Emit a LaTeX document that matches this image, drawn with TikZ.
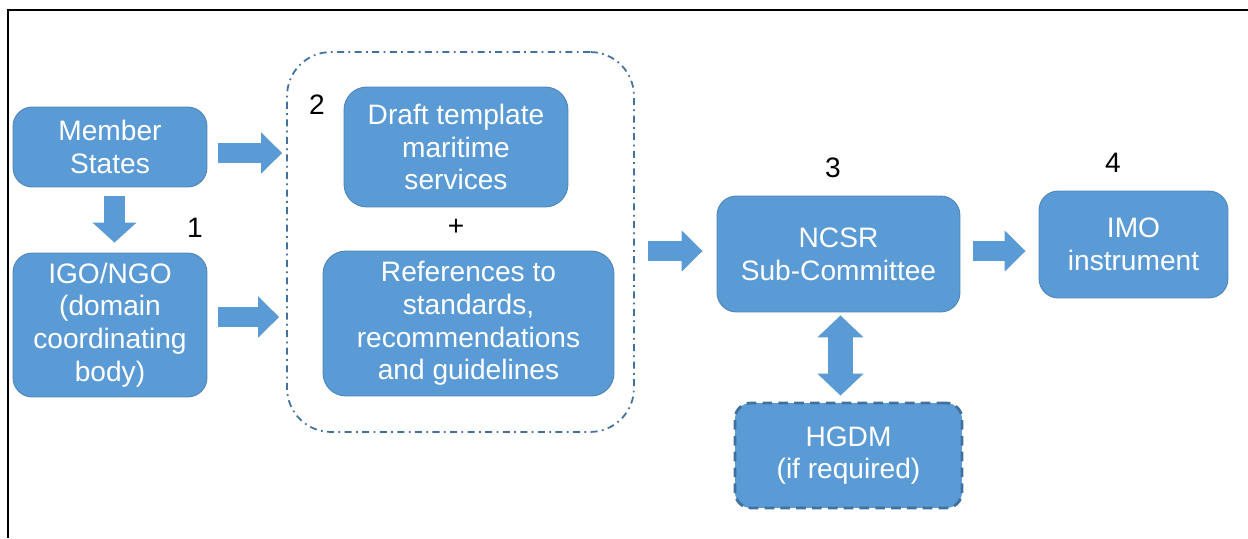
\documentclass[tikz,border=0pt]{standalone}
\usepackage{fontspec}
\setmainfont{Liberation Sans}
\usetikzlibrary{arrows.meta,calc}
\definecolor{boxblue}{RGB}{91,155,213}
\definecolor{edgeblue}{RGB}{65,113,156}
\tikzset{
  box/.style={draw=edgeblue!55!boxblue, line width=0.5pt, fill=boxblue, rectangle, rounded corners=11pt, text=white, align=center, inner sep=0pt, font=\fontsize{16}{18.6}\selectfont},
  optbox/.style={box, rounded corners=9pt, draw=edgeblue, line width=1.6pt, dash pattern=on 5.5pt off 3.5pt},
  group/.style={draw=edgeblue, line width=1pt, rectangle, rounded corners=25pt, dash pattern=on 4pt off 2.5pt on 1pt off 2.5pt},
  num/.style={inner sep=0pt, font=\fontsize{16}{18}\selectfont},
  fat/.style={draw=boxblue, line width=0.4cm, -{Triangle[length=0.42cm, width=0.8cm]}},
  fatdown/.style={draw=boxblue, line width=0.42cm, -{Triangle[length=0.4cm, width=0.86cm]}},
  twoway/.style={draw=boxblue, line width=0.5cm, {Triangle[length=0.44cm, width=0.9cm]}-{Triangle[length=0.44cm, width=0.9cm]}}
}

\begin{document}
\begin{tikzpicture}[x=0.02cm, y=-0.02cm]
  \useasboundingbox (0,0) rectangle (1248,538);
  % frame (top and left edges only)
  \draw[line width=1.4pt] (8,538) -- (8,10) -- (1248,10);

  % Step 1: proposers
  \node[box, minimum width=3.88cm, minimum height=1.6cm] (ms) at (110,147) {Member\\States};
  \node[box, minimum width=3.88cm, minimum height=2.88cm] (igo) at (110,325) {IGO/NGO\\(domain\\coordinating\\body)};
  \node[num] (n1) at (195,228) {1};

  % Step 2: submission package
  \node[group, minimum width=6.94cm, minimum height=7.6cm] (grp) at (460.5,242) {};
  \node[box, minimum width=4.48cm, minimum height=2.4cm, rounded corners=13pt] (tmpl) at (456,147) {Draft template\\maritime\\services};
  \node[box, minimum width=5.82cm, minimum height=2.9cm, rounded corners=13pt] (refs) at (468.5,323.5) {References to\\standards,\\recommendations\\and guidelines};
  \node[num] (plus) at (456,227) {+};
  \node[num] (n2) at (317,105) {2};

  % Steps 3 and 4
  \node[box, minimum width=4.86cm, minimum height=2.32cm] (ncsr) at (838.5,254) {NCSR\\Sub-Committee};
  \node[box, minimum width=3.78cm, minimum height=2.14cm] (imo) at (1133.5,244.5) {IMO\\instrument};
  \node[optbox, minimum width=4.54cm, minimum height=2.1cm] (hgdm) at (848.5,455.5) {HGDM\\(if required)};
  \node[num] (n3) at (833,168) {3};
  \node[num] (n4) at (1113,163) {4};

  % Block arrows
  \draw[fat] ($(ms.east)+(11,6)$) -- ($(grp.west |- ms.east)+(-4,6)$);
  \draw[fat] ($(igo.east)+(11,-8)$) -- ($(grp.west |- igo.east)+(-7,-8)$);
  \draw[fatdown] ($(ms.south)+(4.5,9)$) -- ($(igo.north)+(4.5,-10)$);
  \draw[fat] ($(grp.east |- ncsr.west)+(13,-3)$) -- ($(ncsr.west)+(-14,-3)$);
  \draw[fat] ($(ncsr.east)+(13,-3)$) -- ($(imo.west |- ncsr.east)+(-13,-3)$);
  \draw[twoway] ($(ncsr.south)+(2,3)$) -- ($(hgdm.north)+(-8,-6)$);
\end{tikzpicture}
\end{document}
